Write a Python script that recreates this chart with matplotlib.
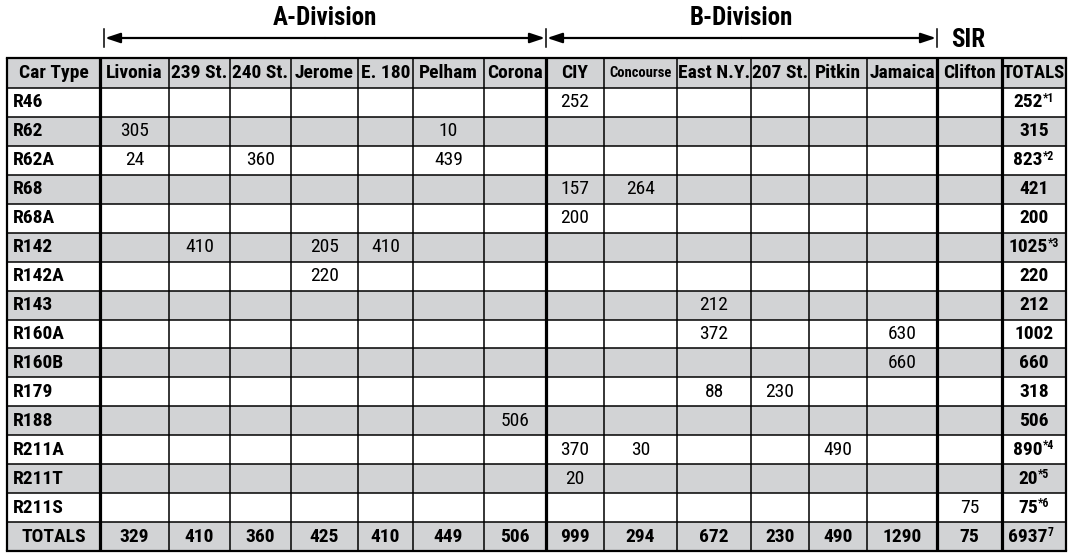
import matplotlib
matplotlib.use('Agg')
import matplotlib.pyplot as plt
from matplotlib.patches import Rectangle
from matplotlib import font_manager

# Donnees du tableau
car_types = ['R46', 'R62', 'R62A', 'R68', 'R68A', 'R142', 'R142A', 'R143',
             'R160A', 'R160B', 'R179', 'R188', 'R211A', 'R211T', 'R211S']
yards = ['Livonia', '239 St.', '240 St.', 'Jerome', 'E. 180', 'Pelham', 'Corona',
         'CIY', 'Concourse', 'East N.Y.', '207 St.', 'Pitkin', 'Jamaica', 'Clifton']

# une ligne par type de voiture, une valeur par depot (None = vide)
counts = [
    [None, None, None, None, None, None, None, 252, None, None, None, None, None, None],
    [305, None, None, None, None, 10, None, None, None, None, None, None, None, None],
    [24, None, 360, None, None, 439, None, None, None, None, None, None, None, None],
    [None, None, None, None, None, None, None, 157, 264, None, None, None, None, None],
    [None, None, None, None, None, None, None, 200, None, None, None, None, None, None],
    [None, 410, None, 205, 410, None, None, None, None, None, None, None, None, None],
    [None, None, None, 220, None, None, None, None, None, None, None, None, None, None],
    [None, None, None, None, None, None, None, None, None, 212, None, None, None, None],
    [None, None, None, None, None, None, None, None, None, 372, None, None, 630, None],
    [None, None, None, None, None, None, None, None, None, None, None, None, 660, None],
    [None, None, None, None, None, None, None, None, None, 88, 230, None, None, None],
    [None, None, None, None, None, None, 506, None, None, None, None, None, None, None],
    [None, None, None, None, None, None, None, 370, 30, None, None, 490, None, None],
    [None, None, None, None, None, None, None, 20, None, None, None, None, None, None],
    [None, None, None, None, None, None, None, None, None, None, None, None, None, 75],
]
row_totals = [252, 315, 823, 421, 200, 1025, 220, 212, 1002, 660, 318, 506, 890, 20, 75]
row_notes = ['*1', '', '*2', '', '', '*3', '', '', '', '', '', '', '*4', '*5', '*6']
col_totals = [329, 410, 360, 425, 410, 449, 506, 999, 294, 672, 230, 490, 1290, 75]
grand_total = 6937
grand_note = '7'

# Mise en page (pixels)
col_edges = [7, 100, 169, 230, 291, 358, 413, 484, 546, 604, 677, 751, 809, 867, 937, 1002, 1066]
thick_cols = [100, 546, 937, 1002]
top = 58
header_bottom = 88
bottom = 551
n_rows = len(car_types) + 1
row_h = (bottom - header_bottom) / n_rows
gray = '#d2d3d5'

# police etroite si possible
names = set(f.name for f in font_manager.fontManager.ttflist)
stretch = 'normal'
fam = 'DejaVu Sans'
for cand in ['Roboto Condensed', 'Liberation Sans Narrow', 'Open Sans Condensed', 'Noto Sans Condensed']:
    if cand in names:
        fam = cand
        break
else:
    for f in font_manager.fontManager.ttflist:
        if f.name == 'DejaVu Sans' and f.stretch == 'condensed':
            stretch = 'condensed'
            break
plt.rcParams['font.family'] = [fam, 'DejaVu Sans']
plt.rcParams['font.stretch'] = stretch

fig = plt.figure(figsize=(10.7, 5.58), dpi=100)
ax = fig.add_axes([0, 0, 1, 1])
ax.set_xlim(0, 1070)
ax.set_ylim(558, 0)
ax.axis('off')

left, right = col_edges[0], col_edges[-1]

# fond gris
ax.add_patch(Rectangle((left, top), right - left, header_bottom - top, color=gray, lw=0))
for i in range(n_rows):
    if i % 2 == 1 or i == n_rows - 1:
        y0 = header_bottom + i * row_h
        ax.add_patch(Rectangle((left, y0), right - left, row_h, color=gray, lw=0))

# lignes horizontales
ys = [top, header_bottom] + [header_bottom + (i + 1) * row_h for i in range(n_rows)]
for y in ys[1:-1]:
    ax.plot([left, right], [y, y], color='black', lw=1.1, solid_capstyle='butt')
ax.plot([left, right], [top, top], color='black', lw=1.6)
ax.plot([left, right], [bottom, bottom], color='black', lw=1.6)

# lignes verticales
for x in col_edges:
    if x in thick_cols:
        lw = 2.3
    elif x in (left, right):
        lw = 1.6
    else:
        lw = 1.1
    ax.plot([x, x], [top, bottom], color='black', lw=lw, solid_capstyle='butt')

centers = [(col_edges[i] + col_edges[i + 1]) / 2 for i in range(len(col_edges) - 1)]
fs_head = 14
fs_data = 14

# en-tetes
ax.text(centers[0], (top + header_bottom) / 2, 'Car Type', ha='center', va='center',
        fontsize=fs_head, fontweight='bold')
for j, name in enumerate(yards):
    fs = 10.5 if name == 'Concourse' else fs_head
    ax.text(centers[j + 1], (top + header_bottom) / 2, name, ha='center', va='center',
            fontsize=fs, fontweight='bold')
ax.text(centers[-1], (top + header_bottom) / 2, 'TOTALS', ha='center', va='center',
        fontsize=13.5, fontweight='bold')


def total_cell(x, y, value, note):
    shift = 6 if note else 0
    t = ax.text(x - shift, y, str(value), ha='center', va='center',
                fontsize=fs_head, fontweight='bold')
    if note:
        ax.annotate(note, xy=(1, 1.08), xycoords=t, ha='left', va='top',
                    fontsize=8.5, fontweight='bold')


# lignes de donnees
for i, ct in enumerate(car_types):
    yc = header_bottom + (i + 0.5) * row_h
    ax.text(col_edges[0] + 6, yc, ct, ha='left', va='center', fontsize=fs_head, fontweight='bold')
    for j, v in enumerate(counts[i]):
        if v is not None:
            ax.text(centers[j + 1], yc, str(v), ha='center', va='center', fontsize=fs_data)
    total_cell(centers[-1], yc, row_totals[i], row_notes[i])

# ligne des totaux
yc = header_bottom + (n_rows - 0.5) * row_h
ax.text(centers[0], yc, 'TOTALS', ha='center', va='center', fontsize=fs_head, fontweight='bold')
for j, v in enumerate(col_totals):
    ax.text(centers[j + 1], yc, str(v), ha='center', va='center', fontsize=fs_head, fontweight='bold')
total_cell(centers[-1], yc, grand_total, grand_note)

# fleches des divisions
y_arr = 38
arrow_style = dict(arrowstyle='-|>,head_length=0.9,head_width=0.3', color='black', lw=1.6,
                   shrinkA=0, shrinkB=0)
a_start, a_end = 104, 546
b_start, b_end = 546, 937
ax.annotate('', xy=(a_start + 1, y_arr), xytext=((a_start + a_end) / 2, y_arr), arrowprops=arrow_style)
ax.annotate('', xy=(a_end - 1, y_arr), xytext=((a_start + a_end) / 2, y_arr), arrowprops=arrow_style)
ax.annotate('', xy=(b_start + 1, y_arr), xytext=((b_start + b_end) / 2, y_arr), arrowprops=arrow_style)
ax.annotate('', xy=(b_end - 1, y_arr), xytext=((b_start + b_end) / 2, y_arr), arrowprops=arrow_style)
for x in (a_start, a_end, b_end):
    ax.plot([x, x], [y_arr - 9, y_arr + 9], color='black', lw=1.1)

ax.text(325, 18, 'A-Division', ha='center', va='center', fontsize=18, fontweight='bold')
ax.text(741, 18, 'B-Division', ha='center', va='center', fontsize=18, fontweight='bold')
ax.text(968, 40, 'SIR', ha='center', va='center', fontsize=18, fontweight='bold')

fig.savefig('out.png', dpi=100)
